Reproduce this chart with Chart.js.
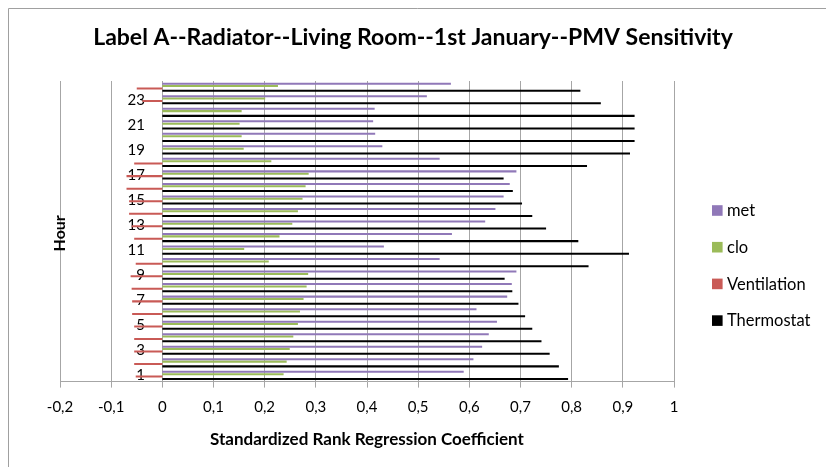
<!DOCTYPE html>
<html><head><meta charset="utf-8">
<script src="https://cdn.jsdelivr.net/npm/chart.js@4.4.0/dist/chart.umd.min.js"></script>
<style>html,body{margin:0;padding:0;background:#fff;}canvas{display:block;}</style>
</head><body>
<canvas id="c" width="826" height="467"></canvas>
<script>
// ---- data (hour 1 .. 24) ----
const hours = ['1','2','3','4','5','6','7','8','9','10','11','12','13','14','15','16','17','18','19','20','21','22','23','24'];
const met = [0.589,0.608,0.625,0.638,0.654,0.614,0.674,0.683,0.692,0.542,0.433,0.566,0.631,0.651,0.667,0.679,0.692,0.542,0.430,0.416,0.412,0.415,0.517,0.564];
const clo = [0.237,0.243,0.249,0.256,0.265,0.269,0.276,0.282,0.285,0.208,0.160,0.229,0.254,0.265,0.274,0.280,0.286,0.213,0.159,0.155,0.151,0.155,0.201,0.226];
const ventilation = [-0.052,-0.055,-0.055,-0.055,-0.055,-0.059,-0.059,-0.060,-0.062,-0.052,0,-0.055,-0.060,-0.065,-0.065,-0.070,-0.070,-0.055,0,0,0,0,-0.039,-0.050];
const thermostat = [0.793,0.775,0.757,0.741,0.723,0.709,0.696,0.684,0.669,0.833,0.912,0.813,0.750,0.723,0.703,0.685,0.667,0.830,0.914,0.923,0.923,0.923,0.857,0.817];
const seriesNames = ['met','clo','Ventilation','Thermostat'];
const xMin = -0.2, xMax = 1, xStep = 0.1;
const chartTitle = 'Label A--Radiator--Living Room--1st January--PMV Sensitivity';
const xTitle = 'Standardized Rank Regression Coefficient';
const yTitle = 'Hour';

// ---- styles ----
const colors = ['#9078b8','#9bbb59','#c95a56','#000000'];
const gridColor = '#a6a6a6';
Chart.defaults.font.family = 'Lato';

const extras = {
  id: 'extras',
  afterDraw(chart) {
    const ctx = chart.ctx, ca = chart.chartArea;
    ctx.save();
    // chart frame (left + top visible)
    ctx.strokeStyle = '#a0a0a0'; ctx.lineWidth = 1;
    ctx.beginPath(); ctx.moveTo(8.5, 467); ctx.lineTo(8.5, 8.5); ctx.lineTo(826, 8.5); ctx.stroke();
    ctx.fillStyle = '#000';
    // chart title, centred on the whole chart
    ctx.font = 'bold 23px Lato'; ctx.textAlign = 'center'; ctx.textBaseline = 'middle';
    ctx.fillText(chartTitle, 413, 38);
    // y axis title
    ctx.save();
    ctx.translate(60, (ca.top + ca.bottom) / 2 + 2);
    ctx.rotate(-Math.PI / 2);
    ctx.font = 'bold 16px Lato'; ctx.textAlign = 'center'; ctx.textBaseline = 'middle';
    ctx.fillText(yTitle, 0, 0);
    ctx.restore();
    // legend
    ctx.font = '16.5px Lato'; ctx.textAlign = 'left'; ctx.textBaseline = 'middle';
    chart.data.datasets.forEach((ds, i) => {
      const cy = 210.5 + i * 36.7;
      ctx.fillStyle = ds.backgroundColor;
      ctx.fillRect(712, cy - 5.3, 10.6, 10.6);
      ctx.fillStyle = '#000';
      ctx.fillText(ds.label, 727, cy + 0.5);
    });
    ctx.restore();
  }
};

const seriesData = [met, clo, ventilation, thermostat];
new Chart(document.getElementById('c'), {
  type: 'bar',
  data: {
    labels: hours,
    datasets: seriesNames.map((n, i) => ({
      label: n, data: seriesData[i], backgroundColor: colors[i], borderWidth: 0,
      barPercentage: 0.85, categoryPercentage: 0.76
    }))
  },
  options: {
    indexAxis: 'y',
    responsive: false,
    animation: false,
    layout: { padding: { top: 81, left: 60, right: 152, bottom: 13 } },
    plugins: {
      legend: { display: false },
      tooltip: { enabled: false },
      title: { display: false }
    },
    scales: {
      x: {
        type: 'linear', min: xMin, max: xMax,
        grid: { color: gridColor, tickLength: 6, drawTicks: true },
        border: { display: true, color: gridColor },
        ticks: {
          stepSize: xStep, padding: 11, color: '#000', font: { size: 15 },
          callback: v => String(Math.round(v * 10) / 10).replace('.', ',')
        },
        title: { display: true, text: xTitle, color: '#000', font: { size: 17, weight: 'bold' }, padding: { top: 2, bottom: 4 } }
      },
      y: {
        type: 'category', reverse: true, position: { x: -0.034 },
        grid: { display: false }, border: { display: false },
        ticks: { autoSkip: false, color: '#000', font: { size: 15 }, callback: (v, i) => (i % 2 === 0 ? hours[i] : '') }
      }
    }
  },
  plugins: [extras]
});
</script>
</body></html>
